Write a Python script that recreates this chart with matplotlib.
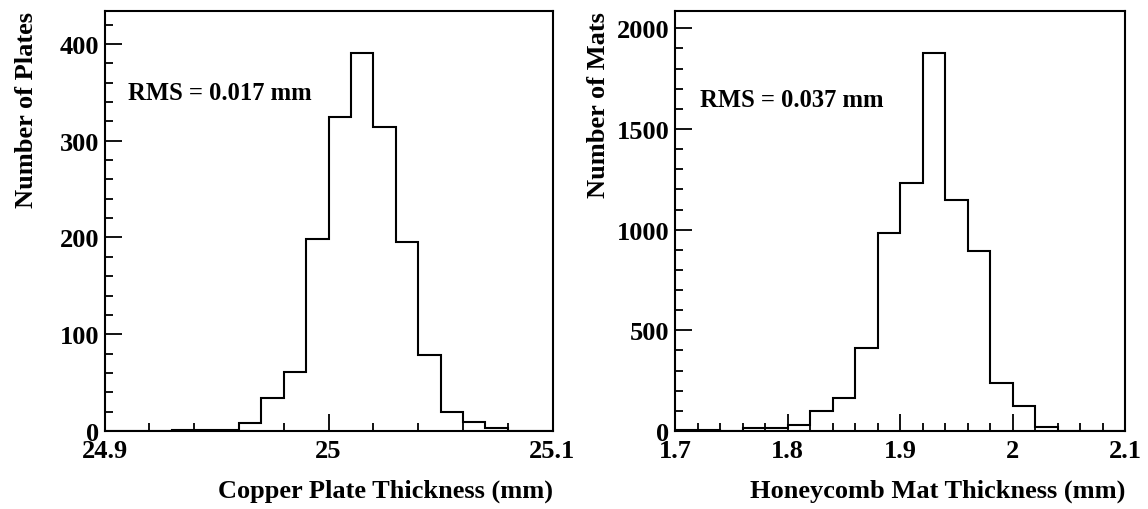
"""
Thickness distributions of copper plates and honeycomb mats
"""

import numpy as np
import matplotlib.pyplot as plt
from matplotlib.ticker import MultipleLocator

plt.rcParams["font.family"] = ["Liberation Serif", "DejaVu Serif"]
plt.rcParams["font.weight"] = "bold"

# copper plates, 0.01 mm bins from 24.90 to 25.10
copper_lo = 24.90
copper_hi = 25.10
copper_counts = [0, 0, 0, 1, 1, 1, 8, 34, 61, 198,
                 324, 391, 314, 195, 79, 20, 9, 3, 0, 0]

# honeycomb mats, 0.02 mm bins from 1.70 to 2.10
mat_lo = 1.70
mat_hi = 2.10
mat_counts = [4, 4, 0, 14, 14, 28, 100, 162, 410, 985,
              1233, 1879, 1145, 893, 240, 125, 22, 0, 0, 0]

W, H = 1148, 510
fig = plt.figure(figsize=(W / 100, H / 100), dpi=100)


def makeHist(rect, lo, hi, counts, ymax, xmajor, xminor, ymajor, yminor,
             xlabel, ylabel, ypad, rms, rms_pos):
    ax = fig.add_axes(rect)
    edges = np.linspace(lo, hi, len(counts) + 1)
    ax.stairs(counts, edges, fill=False, color="black", linewidth=1.5)
    ax.set_xlim(lo, hi)
    ax.set_ylim(0, ymax)
    ax.xaxis.set_major_locator(MultipleLocator(xmajor))
    ax.xaxis.set_minor_locator(MultipleLocator(xminor))
    ax.yaxis.set_major_locator(MultipleLocator(ymajor))
    ax.yaxis.set_minor_locator(MultipleLocator(yminor))
    ax.tick_params(which="both", direction="in", top=False, right=False,
                   width=1.3, labelsize=19, pad=4)
    ax.tick_params(axis="x", which="both", pad=6)
    ax.tick_params(which="major", length=12)
    ax.tick_params(which="minor", length=6)
    ax.xaxis.set_major_formatter(plt.FuncFormatter(lambda v, p: "%g" % round(v, 3)))
    for s in ax.spines.values():
        s.set_linewidth(1.5)
    ax.set_xlabel(xlabel, fontsize=19, fontweight="bold", loc="right", labelpad=12)
    ax.set_ylabel(ylabel, fontsize=19, fontweight="bold", loc="top", labelpad=ypad)
    ax.text(rms_pos[0], rms_pos[1], rms, transform=ax.transAxes, fontsize=17.7,
            fontweight="bold", va="center", ha="left")
    return ax


makeHist([104.5 / W, 1 - 432 / H, 448 / W, 420 / H],
         copper_lo, copper_hi, copper_counts, 434, 0.1, 0.02, 100, 20,
         "Copper Plate Thickness (mm)", "Number of Plates", 15.5,
         "RMS = 0.017 mm", (0.052, 0.807))

makeHist([675 / W, 1 - 432 / H, 450 / W, 420 / H],
         mat_lo, mat_hi, mat_counts, 2086, 0.1, 0.02, 500, 100,
         "Honeycomb Mat Thickness (mm)", "Number of Mats", 5,
         "RMS = 0.037 mm", (0.056, 0.79))

fig.savefig("out.png", dpi=100)
